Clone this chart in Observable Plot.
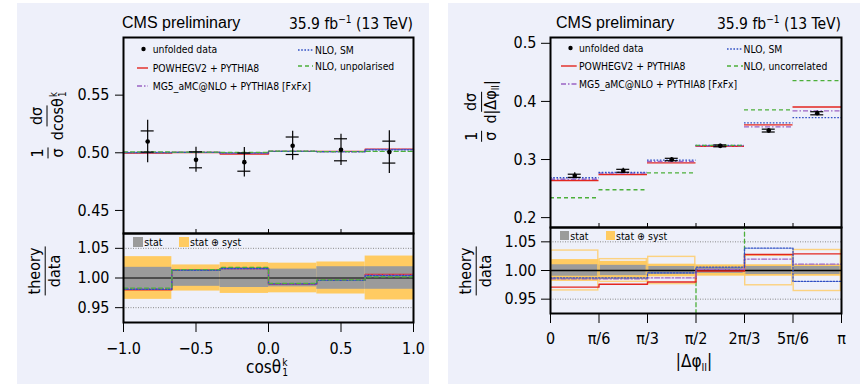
<!DOCTYPE html>
<html><head><meta charset="utf-8">
<script src="https://cdn.jsdelivr.net/npm/d3@7"></script>
<script src="https://cdn.jsdelivr.net/npm/@observablehq/plot@0.6"></script>
<style>
html,body{margin:0;padding:0;background:#fff;}
#root{position:relative;width:867px;height:384px;overflow:hidden;font-family:"DejaVu Sans Condensed","DejaVu Sans",sans-serif;font-stretch:condensed;color:#000;}
.card{position:absolute;background:#eef0fa;}
.t{position:absolute;white-space:nowrap;line-height:1;}
.frac{display:inline-flex;flex-direction:column;align-items:center;line-height:1.05;}
.frac .num{border-bottom:1.3px solid #000;padding:0 1px 1px;}
.frac .den{padding-top:1px;}
.ylab{position:absolute;white-space:nowrap;display:flex;align-items:center;gap:7px;font-size:16px;transform:translate(-50%,-50%) rotate(-90deg);}
.ss{display:inline-flex;flex-direction:column;font-size:0.6em;line-height:1.0;vertical-align:0.72em;margin-left:1px;}
.sub{font-size:0.65em;vertical-align:-0.3em;}
.sup{font-size:0.65em;vertical-align:0.6em;}
.narrow{font-family:"Liberation Sans Narrow","Arial Narrow","Liberation Sans",sans-serif;font-stretch:normal;}
</style></head>
<body><div id="root"></div>
<script>
// ---------------- DATA ----------------
// Left panel: cos(theta_1^k)
const cosEdges = [-1, -2/3, -1/3, 0, 1/3, 2/3, 1];
const cosXTicks = [-1, -0.5, 0, 0.5, 1];
const cosYTicks = [0.45, 0.50, 0.55];
const cosData = [0.5098, 0.4939, 0.4919, 0.5061, 0.5026, 0.5006];
const cosStatRel = [0.018, 0.014, 0.016, 0.015, 0.019, 0.019];
const cosTotRel = [0.036, 0.022, 0.026, 0.025, 0.027, 0.037];
const cosPowheg = [0.4998, 0.5002, 0.4990, 0.5012, 0.5012, 0.5032];
const cosMG5 = [0.5003, 0.5003, 0.4998, 0.5013, 0.5008, 0.5029];
const cosNloSM = [0.5001, 0.5003, 0.4999, 0.5013, 0.5011, 0.5026];
const cosNloUnpol = [0.5008, 0.5005, 0.5004, 0.5014, 0.5010, 0.5012];
const cosRatioPowheg = [0.980, 1.013, 1.016, 0.990, 0.996, 1.006];
const cosRatioMG5 = [0.982, 1.013, 1.016, 0.990, 0.996, 1.005];
const cosRatioNloSM = [0.981, 1.013, 1.016, 0.990, 0.996, 1.004];
const cosRatioNloUnpol = [0.983, 1.014, 1.018, 0.991, 0.997, 1.002];

// Right panel: |delta phi_ll|
const PI = Math.PI;
const dphiEdges = [0, PI/6, PI/3, PI/2, 2*PI/3, 5*PI/6, PI];
const dphiXTicks = [0, PI/6, PI/3, PI/2, 2*PI/3, 5*PI/6, PI];
const dphiTickLabels = ["0", "π/6", "π/3", "π/2", "2π/3", "5π/6", "π"];
const dphiYTicks = [0.2, 0.3, 0.4, 0.5];
const dphiData = [0.272, 0.2806, 0.300, 0.3235, 0.3498, 0.3796];
const dphiStatRel = [0.010, 0.009, 0.007, 0.005, 0.007, 0.007];
const dphiTotRel = [0.019, 0.016, 0.011, 0.009, 0.010, 0.010];
const dphiBoxRel = [0.036, 0.021, 0.025, 0.010, 0.027, 0.037];
const dphiPowheg = [0.2639, 0.2742, 0.2943, 0.3228, 0.3596, 0.3905];
const dphiMG5 = [0.2660, 0.2765, 0.2966, 0.3235, 0.3562, 0.3837];
const dphiNloSM = [0.2686, 0.2777, 0.2989, 0.3245, 0.3630, 0.3722];
const dphiNloUncor = [0.2342, 0.2480, 0.2771, 0.3245, 0.3854, 0.4357];
const dphiRatioPowheg = [0.971, 0.976, 0.980, 0.999, 1.028, 1.029];
const dphiRatioMG5 = [0.9855, 0.9855, 0.987, 1.002, 1.020, 1.011];
const dphiRatioNloSM = [0.987, 0.987, 0.996, 1.006, 1.039, 0.981];
const dphiRatioNloUncor = [0.861, 0.884, 0.924, 1.003, 1.102, 1.148];

const ratioYTicks = [0.95, 1.00, 1.05];
const legendLeftLabels = ["unfolded data", "POWHEGV2 + PYTHIA8", "MG5_aMC@NLO + PYTHIA8 [FxFx]", "NLO, SM", "NLO, unpolarised"];
const legendRightLabels = ["unfolded data", "POWHEGV2 + PYTHIA8", "MG5_aMC@NLO + PYTHIA8 [FxFx]", "NLO, SM", "NLO, uncorrelated"];
const bandLabels = ["stat", "stat ⊕ syst"];
const titleLeft = "CMS preliminary";
const lumiText = "35.9 fb<span class='sup'>−1</span> (13 TeV)";

// ---------------- STYLE ----------------
const FONT = '"DejaVu Sans Condensed","DejaVu Sans",sans-serif';
const GREY = "#9b9b9b", YELLOW = "#ffcb62";
const STY = {
  powheg: {stroke: "#e3261f", strokeWidth: 1.4, strokeDasharray: null},
  mg5: {stroke: "#9b63c4", strokeWidth: 1.3, strokeDasharray: "5,2,1.5,2"},
  nloSM: {stroke: "#2f4fc4", strokeWidth: 1.3, strokeDasharray: "1.6,1.6"},
  nlo2: {stroke: "#4caf3a", strokeWidth: 1.3, strokeDasharray: "4,3"}
};
const ORDER = ["powheg", "mg5", "nloSM", "nlo2"];

const root = document.getElementById("root");

function bins(edges, data, stat, tot, box) {
  return data.map((v, i) => ({x1: edges[i], x2: edges[i+1], xc: (edges[i] + edges[i+1]) / 2, v, stat: stat[i], tot: tot[i], box: box ? box[i] : 0}));
}
function steps(edges, vals) { return edges.map((e, i) => ({x: e, y: vals[Math.min(i, vals.length - 1)]})); }
function segs(edges, vals) { return vals.map((v, i) => ({x1: edges[i], x2: edges[i+1], y: v})); }
function styleOf(k) { const s = STY[k]; const o = {stroke: s.stroke, strokeWidth: s.strokeWidth}; if (s.strokeDasharray) o.strokeDasharray = s.strokeDasharray; return o; }

function addCard(l, t, w, h) { const d = document.createElement("div"); d.className = "card"; Object.assign(d.style, {left: l+"px", top: t+"px", width: w+"px", height: h+"px"}); root.appendChild(d); }
function placeSvg(svg, l, t) { svg.style.position = "absolute"; svg.style.left = l + "px"; svg.style.top = t + "px"; root.appendChild(svg); }
function addHtml(html, css, cls) { const d = document.createElement("div"); d.className = cls || "t"; d.innerHTML = html; Object.assign(d.style, css); root.appendChild(d); return d; }

function errMarks(B) {
  return [
    Plot.ruleX(B, {x: "xc", y1: d => d.v * (1 - d.tot), y2: d => d.v * (1 + d.tot), stroke: "black", strokeWidth: 1.2}),
    Plot.ruleY(B, {x1: "xc", x2: "xc", y: d => d.v * (1 + d.stat), insetLeft: -6.5, insetRight: -6.5, stroke: "black", strokeWidth: 1.2}),
    Plot.ruleY(B, {x1: "xc", x2: "xc", y: d => d.v * (1 - d.stat), insetLeft: -6.5, insetRight: -6.5, stroke: "black", strokeWidth: 1.2}),
    Plot.dot(B, {x: "xc", y: "v", r: 2.3, fill: "black"})
  ];
}
const baseStyle = {background: "transparent", fontFamily: FONT, fontSize: "16px", overflow: "visible", color: "black"};

// cards
addCard(17, 3, 412, 390);
addCard(448, 3, 412, 390);

// ---------------- LEFT MAIN ----------------
const cosB = bins(cosEdges, cosData, cosStatRel, cosTotRel);
const cosMain = {powheg: cosPowheg, mg5: cosMG5, nloSM: cosNloSM, nlo2: cosNloUnpol};
const cosRatio = {powheg: cosRatioPowheg, mg5: cosRatioMG5, nloSM: cosRatioNloSM, nlo2: cosRatioNloUnpol};

placeSvg(Plot.plot({
  width: 430, height: 240, marginLeft: 123, marginRight: 17, marginTop: 37, marginBottom: 7,
  x: {domain: [-1, 1], axis: null}, y: {domain: [0.43, 0.60], axis: null},
  style: baseStyle,
  marks: [
    Plot.ruleX(cosXTicks.slice(1, -1), {stroke: "black", strokeWidth: 1, insetTop: 192}),
    ...ORDER.map(k => Plot.line(steps(cosEdges, cosMain[k]), {x: "x", y: "y", curve: "step-after", ...styleOf(k)})),
    ...errMarks(cosB),
    Plot.axisY({ticks: cosYTicks, tickSize: 8, tickPadding: 6, tickFormat: d3.format(".2f"), label: null}),
    Plot.frame({stroke: "black", strokeWidth: 2})
  ]
}), 0, 0);

// ---------------- LEFT RATIO ----------------
placeSvg(Plot.plot({
  width: 430, height: 384, marginLeft: 123, marginRight: 17, marginTop: 233, marginBottom: 62,
  x: {domain: [-1, 1], axis: null}, y: {domain: [0.925, 1.075], axis: null},
  style: baseStyle,
  marks: [
    Plot.rect(cosB, {x1: "x1", x2: "x2", y1: d => 1 - d.tot, y2: d => 1 + d.tot, fill: YELLOW}),
    Plot.rect(cosB, {x1: "x1", x2: "x2", y1: d => 1 - d.stat, y2: d => 1 + d.stat, fill: GREY}),
    Plot.ruleY([0.95, 1.05], {stroke: "#8a8a8a", strokeDasharray: "1,1.5"}),
    Plot.ruleY([1], {stroke: "black", strokeWidth: 1}),
    ...ORDER.map(k => Plot.line(steps(cosEdges, cosRatio[k]), {x: "x", y: "y", curve: "step-after", clip: true, ...styleOf(k)})),
    Plot.axisY({ticks: ratioYTicks, tickSize: 8, tickPadding: 6, tickFormat: d3.format(".2f"), label: null}),
    Plot.axisX({ticks: cosXTicks, tickSize: 10, tickPadding: 10, tickFormat: d3.format(".1f"), label: null}),
    Plot.frame({stroke: "black", strokeWidth: 2})
  ]
}), 0, 0);

// ---------------- RIGHT MAIN ----------------
const dB = bins(dphiEdges, dphiData, dphiStatRel, dphiTotRel, dphiBoxRel);
const dMain = {powheg: dphiPowheg, mg5: dphiMG5, nloSM: dphiNloSM, nlo2: dphiNloUncor};
const dRatio = {powheg: dphiRatioPowheg, mg5: dphiRatioMG5, nloSM: dphiRatioNloSM, nlo2: dphiRatioNloUncor};

placeSvg(Plot.plot({
  width: 437, height: 240, marginLeft: 120, marginRight: 26, marginTop: 37, marginBottom: 13,
  x: {domain: [0, PI], axis: null}, y: {domain: [0.183, 0.51], axis: null},
  style: baseStyle,
  marks: [
    Plot.ruleX(dphiXTicks.slice(1, -1), {stroke: "black", strokeWidth: 1, insetTop: 186}),
    ...ORDER.map(k => Plot.ruleY(segs(dphiEdges, dMain[k]), {x1: "x1", x2: "x2", y: "y", ...styleOf(k)})),
    ...errMarks(dB),
    Plot.axisY({ticks: dphiYTicks, tickSize: 9, tickPadding: 5, tickFormat: d3.format(".1f"), label: null}),
    Plot.frame({stroke: "black", strokeWidth: 2})
  ]
}), 430, 0);

// ---------------- RIGHT RATIO ----------------
const ratioLine = k => Plot.line(steps(dphiEdges, dRatio[k]), {x: "x", y: "y", curve: "step-after", clip: true, ...styleOf(k)});
placeSvg(Plot.plot({
  width: 437, height: 384, marginLeft: 120, marginRight: 26, marginTop: 227, marginBottom: 71,
  x: {domain: [0, PI], axis: null}, y: {domain: [0.925, 1.075], axis: null},
  style: baseStyle,
  marks: [
    ratioLine("nlo2"),
    Plot.rect(dB, {x1: "x1", x2: "x2", y1: d => 1 - d.tot, y2: d => 1 + d.tot, fill: YELLOW}),
    Plot.rect(dB, {x1: "x1", x2: "x2", y1: d => 1 - d.stat, y2: d => 1 + d.stat, fill: GREY}),
    Plot.rect(dB, {x1: "x1", x2: "x2", y1: d => 1 - d.box, y2: d => 1 + d.box, fill: "none", stroke: YELLOW, strokeOpacity: 0.8, strokeWidth: 1.4, inset: 0.7}),
    Plot.ruleY([0.95, 1.05], {stroke: "#8a8a8a", strokeDasharray: "1,1.5"}),
    Plot.ruleY([1], {stroke: "black", strokeWidth: 1.6}),
    ...["powheg", "mg5", "nloSM"].map(ratioLine),
    Plot.axisY({ticks: ratioYTicks, tickSize: 9, tickPadding: 5, tickFormat: d3.format(".2f"), label: null}),
    Plot.axisX({ticks: dphiXTicks, tickSize: 10, tickPadding: 9, label: null,
      tickFormat: d => dphiTickLabels[dphiXTicks.findIndex(t => Math.abs(t - d) < 1e-9)]}),
    Plot.frame({stroke: "black", strokeWidth: 2})
  ]
}), 430, 0);

// ---------------- TEXT OVERLAYS ----------------
// titles
addHtml(titleLeft, {left: "122px", top: "15px", fontSize: "16px"}, "t narrow");
addHtml(titleLeft, {left: "556px", top: "15px", fontSize: "16px"}, "t narrow");
addHtml(lumiText, {right: (867 - 413) + "px", top: "15px", fontSize: "15.5px"});
addHtml(lumiText, {right: (867 - 841) + "px", top: "15px", fontSize: "15.5px"});

// y labels
const kSub = "<span class='ss'><span>k</span><span>1</span></span>";
addHtml(`<span class="frac"><span class="num">1</span><span class="den">σ</span></span><span class="frac"><span class="num">dσ</span><span class="den">dcosθ${kSub}</span></span>`, {left: "48px", top: "125px"}, "ylab");
addHtml(`<span class="frac"><span class="num">1</span><span class="den">σ</span></span><span class="frac"><span class="num">dσ</span><span class="den">d|Δφ<span class="sub">ll</span>|</span></span>`, {left: "482px", top: "111px"}, "ylab");
addHtml(`<span class="frac"><span class="num">theory</span><span class="den">data</span></span>`, {left: "45px", top: "271px"}, "ylab");
addHtml(`<span class="frac"><span class="num">theory</span><span class="den">data</span></span>`, {left: "476px", top: "271px"}, "ylab");

// x titles
addHtml(`cosθ${kSub}`, {left: "267px", top: "368px", fontSize: "17px", transform: "translate(-50%,-50%)"});
addHtml(`|Δφ<span class="sub">ll</span>|`, {left: "694px", top: "363px", fontSize: "17px", transform: "translate(-50%,-50%)"});

// legends
function swatch(kind, x1, x2, y) {
  const w = x2 - x1;
  let inner;
  if (kind === "dot") inner = `<circle cx="${w/2}" cy="4" r="2.2" fill="black"/>`;
  else { const s = STY[kind]; inner = `<line x1="0" x2="${w}" y1="4" y2="4" stroke="${s.stroke}" stroke-width="${s.strokeWidth}" ${s.strokeDasharray ? `stroke-dasharray="${s.strokeDasharray}"` : ""}/>`; }
  addHtml(`<svg width="${w}" height="8" style="display:block">${inner}</svg>`, {left: x1 + "px", top: (y - 4) + "px"});
}
function legend(labels, kinds, spots) {
  labels.forEach((lab, i) => {
    const s = spots[i];
    swatch(kinds[i], s[0], s[1], s[2]);
    addHtml(lab, {left: s[3] + "px", top: s[2] + "px", fontSize: "10.3px", transform: "translateY(-50%)"});
  });
}
const legendKinds = ["dot", "powheg", "mg5", "nloSM", "nlo2"];
legend(legendLeftLabels, legendKinds, [[139, 148, 49.3, 152.7], [136.7, 148.3, 67.7, 152.7], [136.7, 148.3, 86, 152.7], [297.7, 313.3, 50, 315], [297.7, 313.3, 66, 315]]);
legend(legendRightLabels, legendKinds, [[565.5, 574.5, 48.3, 579], [561, 576.7, 65.7, 579], [561, 576.7, 84.3, 579], [726.7, 743.3, 49.3, 743.5], [726.7, 743.3, 66, 743.5]]);

// band legends
function bandLegend(gx, yx, y, sz) {
  addHtml("", {left: gx + "px", top: (y - sz/2) + "px", width: sz + "px", height: sz + "px", background: GREY});
  addHtml(bandLabels[0], {left: (gx + sz + 1) + "px", top: y + "px", fontSize: "10.5px", transform: "translateY(-50%)"});
  addHtml("", {left: yx + "px", top: (y - sz/2) + "px", width: sz + "px", height: sz + "px", background: YELLOW});
  addHtml(bandLabels[1], {left: (yx + sz + 1) + "px", top: y + "px", fontSize: "10.5px", transform: "translateY(-50%)"});
}
bandLegend(133.3, 179, 241.7, 10);
bandLegend(560, 605.7, 235.5, 9.3);
</script></body></html>
